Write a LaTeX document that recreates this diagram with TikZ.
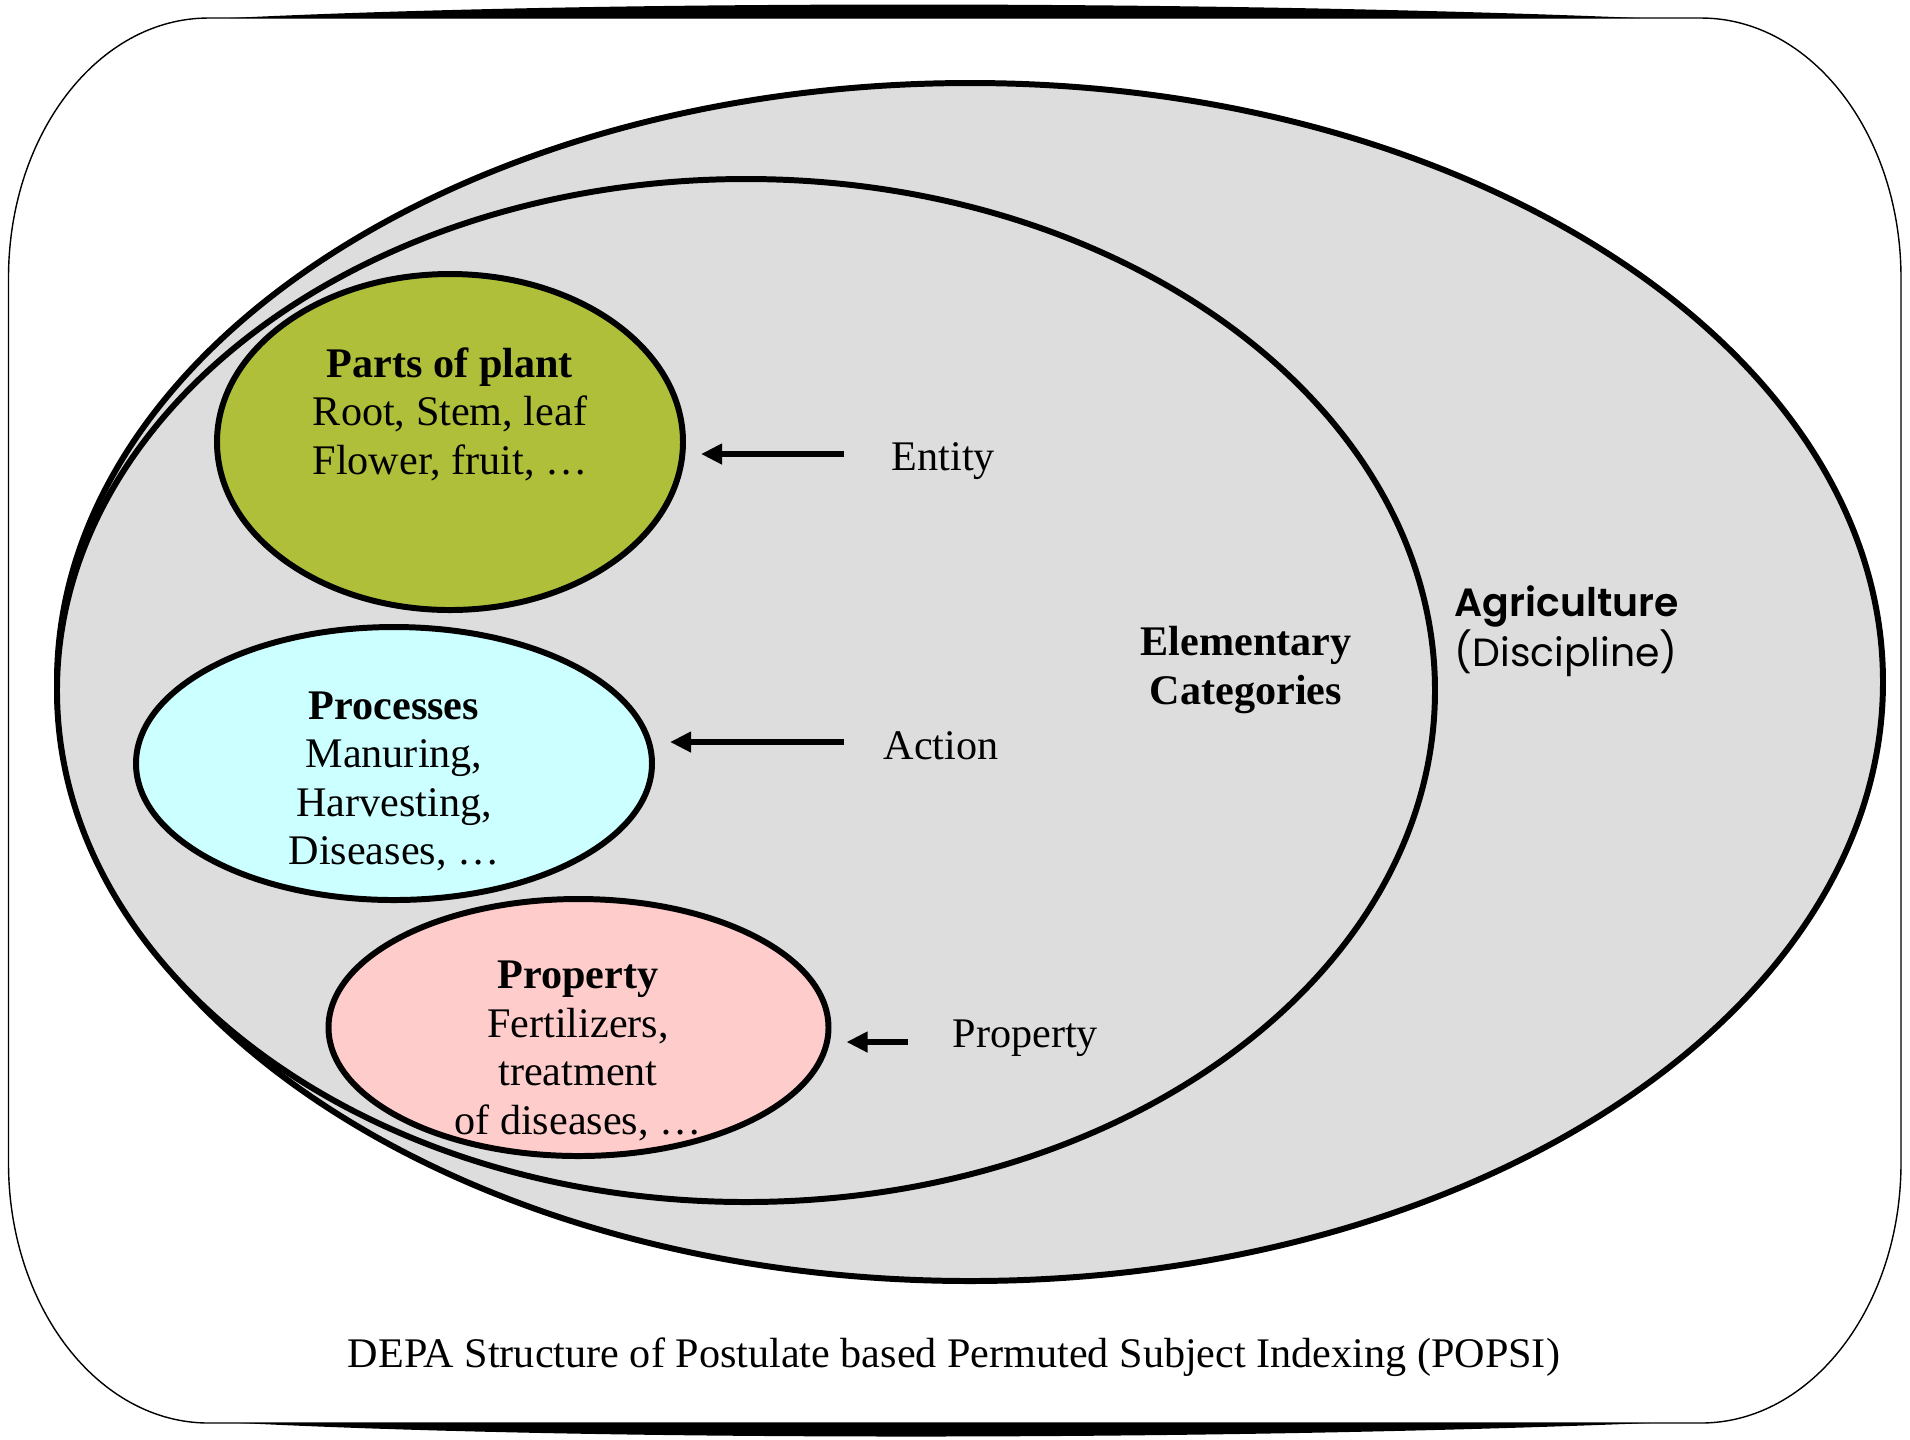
\documentclass[tikz,border=0pt]{standalone}
\usepackage{fontspec}
\setmainfont{Liberation Serif}
\newfontfamily\discfont{Poppins}[BoldFont={Poppins SemiBold}]
\usetikzlibrary{shapes.geometric,arrows.meta}

\definecolor{catgray}{HTML}{DDDDDD}
\definecolor{plantgreen}{HTML}{AFBF3A}
\definecolor{proccyan}{HTML}{CCFFFF}
\definecolor{proppink}{HTML}{FFCCCC}

\begin{document}
\begin{tikzpicture}[
  every node/.style={font=\fontsize{12}{13.8}\selectfont},
  oval/.style={ellipse, draw, line width=1.7pt, inner sep=0pt},
  arr/.style={-{Triangle[length=6pt,width=5.6pt]}, line width=1.9pt, shorten >=0.15cm},
  txt/.style={align=center}]

	\useasboundingbox (0,0) rectangle (19.10,-14.39);

	% Frame
	\draw[line width=0.4pt] (2.085,-0.18) -- (17.01,-0.18)
		arc[start angle=90, end angle=0, x radius=2, y radius=2.6] -- (19.01,-11.63)
		arc[start angle=0, end angle=-90, x radius=2, y radius=2.6] -- (2.085,-14.23)
		arc[start angle=-90, end angle=-180, x radius=2, y radius=2.6] -- (0.085,-2.78)
		arc[start angle=180, end angle=90, x radius=2, y radius=2.6] -- cycle;
	\fill (2.3,-0.18) .. controls (6,0.0) and (12,0.0) .. (16.4,-0.18) -- cycle;
	\fill (2.4,-14.23) .. controls (6,-14.41) and (12,-14.41) .. (16.5,-14.23) -- cycle;

	% Discipline and categories
	\node[oval, fill=catgray, minimum width=18.26cm, minimum height=11.98cm] (agri) at (9.70,-6.82) {};
	\node[oval, fill=catgray, minimum width=13.78cm, minimum height=10.23cm] (elem) at (7.46,-6.905) {};
	\node[oval, fill=plantgreen, minimum width=4.66cm, minimum height=3.36cm] (plant) at (4.50,-4.42) {};
	\node[oval, fill=proccyan, minimum width=5.16cm, minimum height=2.73cm] (proc) at (3.94,-7.635) {};
	\node[oval, fill=proppink, minimum width=5.0cm, minimum height=2.57cm] (prop) at (5.785,-10.275) {};

	\node[txt] (plantTxt) at (4.50,-4.14) {\textbf{Parts of plant}\\Root, Stem, leaf\\Flower, fruit, …};
	\node[txt] (procTxt) at (3.94,-7.815) {\textbf{Processes}\\Manuring,\\Harvesting,\\Diseases, …};
	\node[txt] (propTxt) at (5.78,-10.51) {\textbf{Property}\\Fertilizers,\\treatment\\of diseases, …};
	\node[txt, font=\bfseries\fontsize{12}{13.8}\selectfont] (elemTxt) at (12.46,-6.70) {Elementary\\Categories};
	\node[anchor=west, align=left, inner sep=0pt, font=\discfont\fontsize{11.2}{14.2}\selectfont] (agriTxt) at (14.54,-6.31) {\textbf{Agriculture}\\(Discipline)};

	% Labels and arrows
	\node[anchor=west, inner sep=0pt] (entity) at (8.91,-4.61) {Entity};
	\node[anchor=west, inner sep=0pt] (action) at (8.83,-7.455) {Action};
	\node[anchor=west, inner sep=0pt] (propLbl) at (9.52,-10.38) {Property};

	\coordinate (entityTail) at (8.44,-4.54);
	\draw[arr] (entityTail) -- (entityTail -| plant.east);
	\coordinate (actionTail) at (8.44,-7.42);
	\draw[arr] (actionTail) -- (actionTail -| proc.east);
	\coordinate (propTail) at (9.08,-10.42);
	\draw[arr] (propTail) -- (propTail -| prop.east);

	\node (caption) at (9.54,-13.57) {DEPA Structure of Postulate based Permuted Subject Indexing (POPSI)};

\end{tikzpicture}
\end{document}
